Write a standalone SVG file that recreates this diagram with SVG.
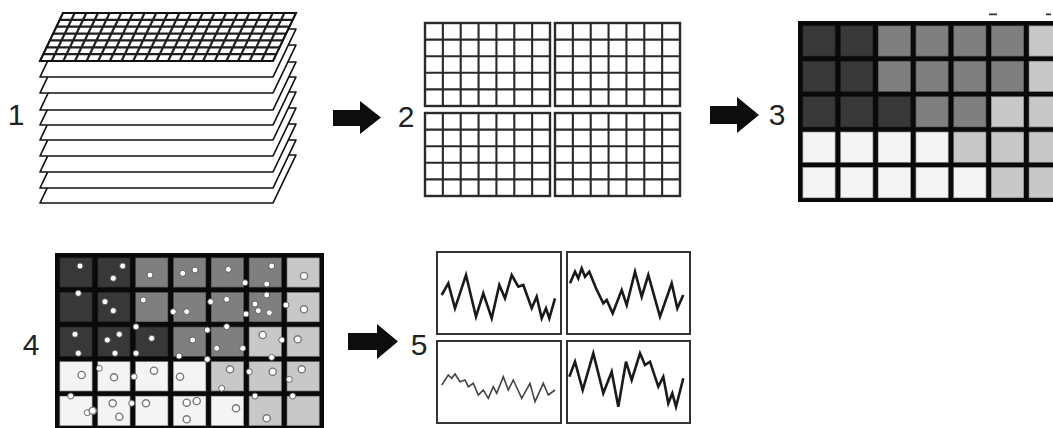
<svg xmlns="http://www.w3.org/2000/svg" xmlns:xlink="http://www.w3.org/1999/xlink" width="1053" height="428" viewBox="0 0 1053 428">
  <style>
    .num { font-family: "Liberation Sans", Arial, sans-serif; font-size: 30px; fill: #222; text-anchor: middle; }
    .sheet { fill: #fff; stroke: #111; stroke-width: 1.7; stroke-linejoin: round; }
    .sheetgrid { fill: none; stroke: #1e1e1e; stroke-width: 2.2; }
    .tile { fill: #fff; stroke: #2a2a2a; stroke-width: 2.4; }
    .tilegrid { fill: none; stroke: #2a2a2a; stroke-width: 2.1; }
    .arrow { fill: #0d0d0d; }
    .d { fill: #383838; }
    .m { fill: #7f7f7f; }
    .l { fill: #c8c8c8; }
    .w { fill: #f4f4f4; }
    .cell { stroke: #000; stroke-opacity: 0.35; stroke-width: 1.5; }
    .dot { fill: #fff; stroke: #555; stroke-width: 0.9; }
    .ring { fill: #fff; stroke: #777; stroke-width: 1.4; }
    .box { fill: #fff; stroke: #333; stroke-width: 2; }
    .wave { fill: none; stroke: #1a1a1a; stroke-width: 2.6; stroke-linejoin: miter; }
    .wave-thin { fill: none; stroke: #444; stroke-width: 1.6; }
  </style>
  <defs>
    <polygon id="sheet-shape" points="63,13 296,13 273,61 40,61"/>
    <g id="tile-grid">
      <rect class="tile" x="0" y="0" width="125" height="83"/>
      <path class="tilegrid" d="M17.86,0V83M35.71,0V83M53.57,0V83M71.43,0V83M89.29,0V83M107.14,0V83M0,16.6H125M0,33.2H125M0,49.8H125M0,66.4H125"/>
    </g>
  </defs>

  <rect width="1053" height="428" fill="#fff"/>

  <!-- step 1: stack of sheets -->
  <g id="step1">
    <use href="#sheet-shape" class="sheet" transform="translate(0,142)"/>
    <use href="#sheet-shape" class="sheet" transform="translate(0,127)"/>
    <use href="#sheet-shape" class="sheet" transform="translate(0,111)"/>
    <use href="#sheet-shape" class="sheet" transform="translate(0,95)"/>
    <use href="#sheet-shape" class="sheet" transform="translate(0,79)"/>
    <use href="#sheet-shape" class="sheet" transform="translate(0,64)"/>
    <use href="#sheet-shape" class="sheet" transform="translate(0,49)"/>
    <use href="#sheet-shape" class="sheet" transform="translate(0,32)"/>
    <use href="#sheet-shape" class="sheet" transform="translate(0,16)"/>
    <use href="#sheet-shape" class="sheet"/>
    <path class="sheetgrid" d="M74.65,13L51.65,61M86.3,13L63.3,61M97.95,13L74.95,61M109.6,13L86.6,61M121.25,13L98.25,61M132.9,13L109.9,61M144.55,13L121.55,61M156.2,13L133.2,61M167.85,13L144.85,61M179.5,13L156.5,61M191.15,13L168.15,61M202.8,13L179.8,61M214.45,13L191.45,61M226.1,13L203.1,61M237.75,13L214.75,61M249.4,13L226.4,61M261.05,13L238.05,61M272.7,13L249.7,61M284.35,13L261.35,61M59.71,19.86H292.71M56.43,26.71H289.43M53.14,33.57H286.14M49.86,40.43H282.86M46.57,47.29H279.57M43.29,54.14H276.29"/>
    <use href="#sheet-shape" fill="none" stroke="#111" stroke-width="2"/>
    <text class="num" x="16" y="125">1</text>
  </g>

  <!-- step 2: tiled grids -->
  <g id="step2">
    <use href="#tile-grid" x="425" y="23"/>
    <use href="#tile-grid" x="555" y="23"/>
    <use href="#tile-grid" x="425" y="113"/>
    <use href="#tile-grid" x="555" y="113"/>
    <text class="num" x="406" y="127">2</text>
  </g>

  <!-- step 3: shaded cell map -->
  <g id="step3">
    <rect x="798" y="21" width="260" height="181" fill="#0a0a0a"/>
    <g class="cell">
      <rect class="d" x="802.5" y="25.5" width="33" height="31"/>
      <rect class="d" x="840.2" y="25.5" width="33" height="31"/>
      <rect class="m" x="877.9" y="25.5" width="33" height="31"/>
      <rect class="m" x="915.6" y="25.5" width="33" height="31"/>
      <rect class="m" x="953.3" y="25.5" width="33" height="31"/>
      <rect class="m" x="991" y="25.5" width="33" height="31"/>
      <rect class="l" x="1028.7" y="25.5" width="33" height="31"/>

      <rect class="d" x="802.5" y="60.9" width="33" height="31"/>
      <rect class="d" x="840.2" y="60.9" width="33" height="31"/>
      <rect class="m" x="877.9" y="60.9" width="33" height="31"/>
      <rect class="m" x="915.6" y="60.9" width="33" height="31"/>
      <rect class="m" x="953.3" y="60.9" width="33" height="31"/>
      <rect class="m" x="991" y="60.9" width="33" height="31"/>
      <rect class="l" x="1028.7" y="60.9" width="33" height="31"/>

      <rect class="d" x="802.5" y="96.3" width="33" height="31"/>
      <rect class="d" x="840.2" y="96.3" width="33" height="31"/>
      <rect class="d" x="877.9" y="96.3" width="33" height="31"/>
      <rect class="m" x="915.6" y="96.3" width="33" height="31"/>
      <rect class="m" x="953.3" y="96.3" width="33" height="31"/>
      <rect class="l" x="991" y="96.3" width="33" height="31"/>
      <rect class="l" x="1028.7" y="96.3" width="33" height="31"/>

      <rect class="w" x="802.5" y="131.7" width="33" height="31"/>
      <rect class="w" x="840.2" y="131.7" width="33" height="31"/>
      <rect class="w" x="877.9" y="131.7" width="33" height="31"/>
      <rect class="w" x="915.6" y="131.7" width="33" height="31"/>
      <rect class="l" x="953.3" y="131.7" width="33" height="31"/>
      <rect class="l" x="991" y="131.7" width="33" height="31"/>
      <rect class="l" x="1028.7" y="131.7" width="33" height="31"/>

      <rect class="w" x="802.5" y="167.1" width="33" height="31"/>
      <rect class="w" x="840.2" y="167.1" width="33" height="31"/>
      <rect class="w" x="877.9" y="167.1" width="33" height="31"/>
      <rect class="w" x="915.6" y="167.1" width="33" height="31"/>
      <rect class="w" x="953.3" y="167.1" width="33" height="31"/>
      <rect class="l" x="991" y="167.1" width="33" height="31"/>
      <rect class="l" x="1028.7" y="167.1" width="33" height="31"/>
    </g>
    <path d="M989,14.3h8M1046,14.3h5" stroke="#333" stroke-width="1.8"/>
    <text class="num" x="777" y="125">3</text>
  </g>

  <!-- step 4: cell map with sample points -->
  <g id="step4">
    <rect x="55" y="253" width="269" height="180" fill="#0a0a0a"/>
    <g class="cell">
      <rect class="d" x="59.5" y="257.5" width="33" height="30"/>
      <rect class="d" x="97.4" y="257.5" width="33" height="30"/>
      <rect class="m" x="135.2" y="257.5" width="33" height="30"/>
      <rect class="m" x="173.1" y="257.5" width="33" height="30"/>
      <rect class="m" x="210.9" y="257.5" width="33" height="30"/>
      <rect class="m" x="248.8" y="257.5" width="33" height="30"/>
      <rect class="l" x="286.7" y="257.5" width="33" height="30"/>

      <rect class="d" x="59.5" y="292.1" width="33" height="30"/>
      <rect class="d" x="97.4" y="292.1" width="33" height="30"/>
      <rect class="m" x="135.2" y="292.1" width="33" height="30"/>
      <rect class="m" x="173.1" y="292.1" width="33" height="30"/>
      <rect class="m" x="210.9" y="292.1" width="33" height="30"/>
      <rect class="m" x="248.8" y="292.1" width="33" height="30"/>
      <rect class="l" x="286.7" y="292.1" width="33" height="30"/>

      <rect class="d" x="59.5" y="326.7" width="33" height="30"/>
      <rect class="d" x="97.4" y="326.7" width="33" height="30"/>
      <rect class="d" x="135.2" y="326.7" width="33" height="30"/>
      <rect class="m" x="173.1" y="326.7" width="33" height="30"/>
      <rect class="m" x="210.9" y="326.7" width="33" height="30"/>
      <rect class="l" x="248.8" y="326.7" width="33" height="30"/>
      <rect class="l" x="286.7" y="326.7" width="33" height="30"/>

      <rect class="w" x="59.5" y="361.3" width="33" height="30"/>
      <rect class="w" x="97.4" y="361.3" width="33" height="30"/>
      <rect class="w" x="135.2" y="361.3" width="33" height="30"/>
      <rect class="w" x="173.1" y="361.3" width="33" height="30"/>
      <rect class="l" x="210.9" y="361.3" width="33" height="30"/>
      <rect class="l" x="248.8" y="361.3" width="33" height="30"/>
      <rect class="l" x="286.7" y="361.3" width="33" height="30"/>

      <rect class="w" x="59.5" y="395.9" width="33" height="30"/>
      <rect class="w" x="97.4" y="395.9" width="33" height="30"/>
      <rect class="w" x="135.2" y="395.9" width="33" height="30"/>
      <rect class="w" x="173.1" y="395.9" width="33" height="30"/>
      <rect class="w" x="210.9" y="395.9" width="33" height="30"/>
      <rect class="l" x="248.8" y="395.9" width="33" height="30"/>
      <rect class="l" x="286.7" y="395.9" width="33" height="30"/>
    </g>
    <g class="dot">
      <circle cx="80" cy="266" r="3"/>
      <circle cx="122.7" cy="266" r="3"/>
      <circle cx="113.3" cy="278.3" r="3"/>
      <circle cx="150" cy="275" r="3"/>
      <circle cx="182.7" cy="273.3" r="3"/>
      <circle cx="195" cy="270" r="3"/>
      <circle cx="228.3" cy="269.3" r="3"/>
      <circle cx="245" cy="282.7" r="3"/>
      <circle cx="271.7" cy="266" r="3"/>
      <circle cx="266.7" cy="284" r="3"/>
      <circle cx="78.3" cy="293.3" r="3"/>
      <circle cx="105" cy="301.7" r="3"/>
      <circle cx="113.3" cy="310.7" r="3"/>
      <circle cx="143.3" cy="300" r="3"/>
      <circle cx="173.3" cy="311.7" r="3"/>
      <circle cx="186.7" cy="311.7" r="3"/>
      <circle cx="210.7" cy="301.7" r="3"/>
      <circle cx="226.7" cy="299.3" r="3"/>
      <circle cx="246" cy="314" r="3"/>
      <circle cx="255" cy="304" r="3"/>
      <circle cx="266.7" cy="295" r="3"/>
      <circle cx="258.3" cy="310.7" r="3"/>
      <circle cx="269.3" cy="312.7" r="3"/>
      <circle cx="286" cy="305" r="3"/>
      <circle cx="136" cy="326.7" r="3"/>
      <circle cx="75" cy="334.3" r="3"/>
      <circle cx="107.3" cy="340" r="3"/>
      <circle cx="119.3" cy="334.3" r="3"/>
      <circle cx="151.7" cy="338.3" r="3"/>
      <circle cx="78.3" cy="353.3" r="3"/>
      <circle cx="115" cy="353.3" r="3"/>
      <circle cx="136" cy="353.3" r="3"/>
      <circle cx="192.7" cy="340" r="3"/>
      <circle cx="207.3" cy="330" r="3"/>
      <circle cx="226.7" cy="326.7" r="3"/>
      <circle cx="216.7" cy="348.3" r="3"/>
      <circle cx="242.7" cy="348.3" r="3"/>
      <circle cx="179" cy="356" r="3"/>
      <circle cx="207.3" cy="359.3" r="3"/>
      <circle cx="281.7" cy="340" r="3"/>
      <circle cx="271.7" cy="357.3" r="3"/>
      <circle cx="99.3" cy="368.3" r="3"/>
      <circle cx="134" cy="376.7" r="3"/>
      <circle cx="221.7" cy="388.3" r="3"/>
      <circle cx="249.3" cy="371.7" r="3"/>
      <circle cx="289.3" cy="379.3" r="3"/>
      <circle cx="70.7" cy="396" r="3"/>
      <circle cx="87.3" cy="412.7" r="3"/>
      <circle cx="131.7" cy="403.3" r="3"/>
      <circle cx="255" cy="396" r="3"/>
      <circle cx="292.7" cy="396" r="3"/>
    </g>
    <g class="ring">
      <circle cx="304" cy="276" r="3.6"/>
      <circle cx="304" cy="309.3" r="3.6"/>
      <circle cx="262.7" cy="335" r="3.6"/>
      <circle cx="297.7" cy="339.3" r="3.6"/>
      <circle cx="81.7" cy="375" r="3.6"/>
      <circle cx="114" cy="377.3" r="3.6"/>
      <circle cx="154" cy="370.7" r="3.6"/>
      <circle cx="180" cy="376.7" r="3.6"/>
      <circle cx="230" cy="369.3" r="3.6"/>
      <circle cx="272.7" cy="371.7" r="3.6"/>
      <circle cx="301.7" cy="369.3" r="3.6"/>
      <circle cx="92.7" cy="410.7" r="3.6"/>
      <circle cx="112.7" cy="403.3" r="3.6"/>
      <circle cx="119.3" cy="416.7" r="3.6"/>
      <circle cx="146" cy="403.3" r="3.6"/>
      <circle cx="186.7" cy="402.7" r="3.6"/>
      <circle cx="196.7" cy="401" r="3.6"/>
      <circle cx="186.7" cy="419.3" r="3.6"/>
      <circle cx="236" cy="408.3" r="3.6"/>
      <circle cx="266.7" cy="418.3" r="3.6"/>
    </g>
    <text class="num" x="31" y="355">4</text>
  </g>

  <!-- step 5: extracted signals -->
  <g id="step5">
    <rect class="box" x="437" y="252" width="124" height="82"/>
    <rect class="box" x="567" y="252" width="123" height="82"/>
    <rect class="box" x="437" y="341" width="124" height="82"/>
    <rect class="box" x="567" y="341" width="123" height="82"/>
    <polyline class="wave" points="441.7,295 448.3,283.3 455,308.3 466,275 476,316.7 483.3,293.3 491.7,318.3 499.3,285 505,298.3 511.7,275 518.3,286.7 523.3,285 531.7,308.3 536.7,296.7 541.7,318.3 546,308.3 549.3,318.3 555,298.3"/>
    <polyline class="wave" points="570,283.3 575,271.7 578.3,278.3 581.7,268.3 585,276.7 589.3,271.7 596,288.3 603.3,303.3 606.7,300 612.7,313.3 621.7,290 626.7,305 635,271.7 641.7,296.7 648.3,275 660,316.7 671.7,283.3 677.3,308.3 683.3,295"/>
    <polyline class="wave-thin" points="441.7,385 448.3,375 451.7,378.3 455,374 460,381.7 465,380 468.3,386.7 473.3,383.3 478.3,395 483.3,390 488.3,398.3 493.3,386.7 496.7,393.3 503.3,376.7 508.3,390 513.3,380 521.7,398.3 530,383.3 535,401.7 543.3,383.3 548.3,395 555,390"/>
    <polyline class="wave" points="569.3,376.7 575,361.7 582.7,390 593.3,353.3 603.3,393.3 611.7,371.7 618.3,406.7 626,361.7 631.7,380 640,353.3 645,365 650,361.7 658.3,386.7 663.3,376.7 668.3,403.3 672.3,393.3 676,406.7 683.3,378.3"/>
    <text class="num" x="419" y="355">5</text>
  </g>

  <!-- block arrows between steps -->
  <g id="connectors">
    <polygon class="arrow" points="333,110 360,110 360,101 381,117.5 360,134 360,126 333,126"/>
    <polygon class="arrow" points="710,106 737,106 737,97 759,115 737,133 737,124 710,124"/>
    <polygon class="arrow" points="348,333 377,333 377,324 398,341.5 377,359 377,350 348,350"/>
  </g>
</svg>
